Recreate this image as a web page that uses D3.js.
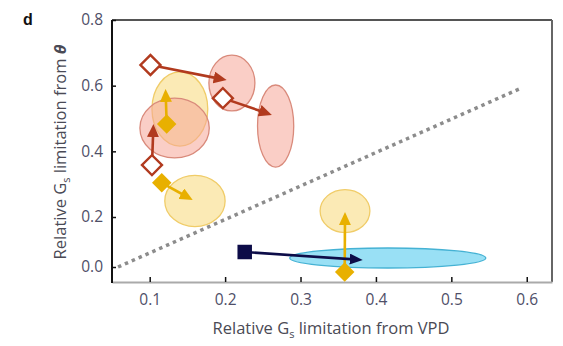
<!DOCTYPE html>
<html>
<head>
<meta charset="utf-8">
<script src="https://cdn.jsdelivr.net/npm/d3@7"></script>
<style>
  html, body { margin: 0; padding: 0; background: #fff; }
  svg { display: block; }
  text { font-family: "Open Sans", "DejaVu Sans", sans-serif; }
</style>
</head>
<body>
<svg id="chart" width="563" height="346"></svg>
<script>
// Axis ticks
const xTicks = [0.1, 0.2, 0.3, 0.4, 0.5, 0.6];
const yTicks = [0.0, 0.2, 0.4, 0.6, 0.8];

// Open-diamond series, dark red arrows
const redFrom = [[0.101, 0.663], [0.197, 0.562], [0.103, 0.358]];
const redTo = [[0.202, 0.617], [0.262, 0.511], [0.105, 0.483]];
const redEllipseCenter = [[0.209, 0.608], [0.267, 0.477], [0.133, 0.471]];
const redEllipseHalf = [[0.0305, 0.085], [0.024, 0.125], [0.046, 0.091]];

// Gold series (filled diamonds)
const goldFrom = [[0.1225, 0.483], [0.116, 0.304], [0.3586, -0.02]];
const goldTo = [[0.121, 0.590], [0.157, 0.252], [0.359, 0.215]];
const goldEllipseCenter = [[0.140, 0.529], [0.160, 0.249], [0.359, 0.218]];
const goldEllipseHalf = [[0.037, 0.113], [0.040, 0.082], [0.033, 0.072]];

// Navy series (filled square, cyan ellipse)
const navyFrom = [[0.226, 0.060]];
const navyTo = [[0.3825, 0.028]];
const blueEllipseCenter = [[0.4157, 0.036]];
const blueEllipseHalf = [[0.130, 0.040]];

// 1:1 reference line
const oneToOne = [[0.058, 0.0], [0.593, 0.593]];

const svg = d3.select("#chart");
const plotLeft = 112, plotRight = 552, plotTop = 20, plotBottom = 282;

const x = d3.scaleLinear().domain([0.05, 0.6335]).range([plotLeft, plotRight]);
// the published axis compresses the lowest interval
const y = d3.scaleLinear().domain([0, 0.2, 0.8]).range([267, 217, 20]);

const colors = {
  red: "#b13a1e", redFill: "#f5a598", redEdge: "#d98a7b",
  gold: "#e8b000", goldFill: "#f8d66c", goldEdge: "#f0cc68",
  navy: "#0d0c48", blueFill: "#80d8f2", blueEdge: "#45b2d4"
};

// arrowhead markers
const defs = svg.append("defs");
const headLen = 13, headBack = 5;
function marker(id, color, w) {
  defs.append("marker")
    .attr("id", id)
    .attr("viewBox", `0 0 ${headLen} ${w}`)
    .attr("refX", headLen - headBack).attr("refY", w / 2)
    .attr("markerWidth", headLen).attr("markerHeight", w)
    .attr("markerUnits", "userSpaceOnUse")
    .attr("orient", "auto")
    .append("path")
    .attr("d", `M0,0 L${headLen},${w / 2} L0,${w} Z`)
    .attr("fill", color);
}
marker("head-red", colors.red, 12);
marker("head-gold", colors.gold, 12);
marker("head-navy", colors.navy, 11);

// frame: top and right border
svg.append("line").attr("x1", plotLeft).attr("x2", plotRight).attr("y1", plotTop).attr("y2", plotTop)
  .attr("stroke", "#555").attr("stroke-width", 2);
svg.append("line").attr("x1", plotRight).attr("x2", plotRight).attr("y1", plotTop).attr("y2", plotBottom)
  .attr("stroke", "#666").attr("stroke-width", 2);

// x axis
const xAxis = svg.append("g").attr("transform", `translate(0,${plotBottom})`)
  .call(d3.axisBottom(x).tickValues(xTicks).tickSizeInner(-5).tickSizeOuter(0)
    .tickFormat(d3.format(".1f")).tickPadding(12));
xAxis.select(".domain").attr("stroke", "#aaa").attr("stroke-width", 2);
xAxis.selectAll(".tick line").attr("stroke", "#111").attr("stroke-width", 1.5);
xAxis.selectAll(".tick text").attr("fill", "#4f4f68").style("font-size", "15.5px");

// y axis
const yAxis = svg.append("g").attr("transform", `translate(${plotLeft},0)`)
  .call(d3.axisLeft(y).tickValues(yTicks).tickSizeInner(-4).tickSizeOuter(0)
    .tickFormat(d3.format(".1f")).tickPadding(9));
yAxis.select(".domain").attr("d", `M0,${plotTop}V${plotBottom + 1}`).attr("stroke", "#111").attr("stroke-width", 2);
yAxis.selectAll(".tick line").attr("stroke", "#111").attr("stroke-width", 1.5);
yAxis.selectAll(".tick text").attr("fill", "#4f4f68").style("font-size", "15.5px");

// 1:1 line
svg.append("line")
  .attr("x1", x(oneToOne[0][0])).attr("y1", y(oneToOne[0][1]))
  .attr("x2", x(oneToOne[1][0])).attr("y2", y(oneToOne[1][1]))
  .attr("stroke", "#8c8c8c").attr("stroke-width", 3.5)
  .attr("stroke-dasharray", "3.5,4");

// error ellipses
function ellipses(centers, halves, fill, edge, op) {
  svg.append("g").selectAll("ellipse").data(centers).join("ellipse")
    .attr("cx", d => x(d[0]))
    .attr("cy", d => y(d[1]))
    .attr("rx", (d, i) => (x(d[0] + halves[i][0]) - x(d[0] - halves[i][0])) / 2)
    .attr("ry", (d, i) => Math.abs(y(d[1] - halves[i][1]) - y(d[1] + halves[i][1])) / 2)
    .attr("fill", fill).attr("fill-opacity", op)
    .attr("stroke", edge).attr("stroke-width", 1.3);
}
ellipses(goldEllipseCenter, goldEllipseHalf, colors.goldFill, colors.goldEdge, 0.5);
ellipses(redEllipseCenter, redEllipseHalf, colors.redFill, colors.redEdge, 0.55);
ellipses(blueEllipseCenter, blueEllipseHalf, colors.blueFill, colors.blueEdge, 0.8);

// arrows from start to end point, shortened so the head tip lands on the end point
function arrows(from, to, color, head) {
  svg.append("g").selectAll("line").data(from).join("line")
    .each(function (d, i) {
      const x1 = x(d[0]), y1 = y(d[1]);
      const x2 = x(to[i][0]), y2 = y(to[i][1]);
      const len = Math.hypot(x2 - x1, y2 - y1);
      const k = (len - headBack) / len;
      d3.select(this)
        .attr("x1", x1).attr("y1", y1)
        .attr("x2", x1 + (x2 - x1) * k).attr("y2", y1 + (y2 - y1) * k);
    })
    .attr("stroke", color).attr("stroke-width", 2.6)
    .attr("marker-end", `url(#${head})`);
}
arrows(goldFrom, goldTo, colors.gold, "head-gold");
arrows(redFrom, redTo, colors.red, "head-red");
arrows(navyFrom, navyTo, colors.navy, "head-navy");

// start markers
svg.append("g").selectAll("path").data(goldFrom).join("path")
  .attr("transform", d => `translate(${x(d[0])},${y(d[1])}) rotate(45)`)
  .attr("d", d3.symbol().type(d3.symbolSquare).size(190))
  .attr("fill", colors.gold);
svg.append("g").selectAll("path").data(redFrom).join("path")
  .attr("transform", d => `translate(${x(d[0])},${y(d[1])}) rotate(45)`)
  .attr("d", d3.symbol().type(d3.symbolSquare).size(200))
  .attr("fill", "#fff").attr("stroke", colors.red).attr("stroke-width", 2.4);
svg.append("g").selectAll("path").data(navyFrom).join("path")
  .attr("transform", d => `translate(${x(d[0])},${y(d[1])})`)
  .attr("d", d3.symbol().type(d3.symbolSquare).size(210))
  .attr("fill", colors.navy);

// axis titles
const xt = svg.append("text")
  .attr("x", 331).attr("y", 334).attr("text-anchor", "middle")
  .attr("fill", "#4a4a55").style("font-size", "16.5px");
xt.append("tspan").text("Relative G");
xt.append("tspan").attr("dy", 4).style("font-size", "11px").text("s");
xt.append("tspan").attr("dy", -4).text(" limitation from VPD");

const yt = svg.append("text")
  .attr("transform", "translate(66,152) rotate(-90)")
  .attr("text-anchor", "middle")
  .attr("fill", "#4a4a55").style("font-size", "16.5px");
yt.append("tspan").text("Relative G");
yt.append("tspan").attr("dy", 4).style("font-size", "11px").text("s");
yt.append("tspan").attr("dy", -4).text(" limitation from ");
yt.append("tspan").style("font-style", "italic").style("font-weight", "bold").text("θ");

// panel letter
svg.append("text").attr("x", 23).attr("y", 25)
  .style("font-family", "'Liberation Sans', Arial, sans-serif")
  .style("font-weight", "bold").style("font-size", "16px").attr("fill", "#111")
  .text("d");
</script>
</body>
</html>
